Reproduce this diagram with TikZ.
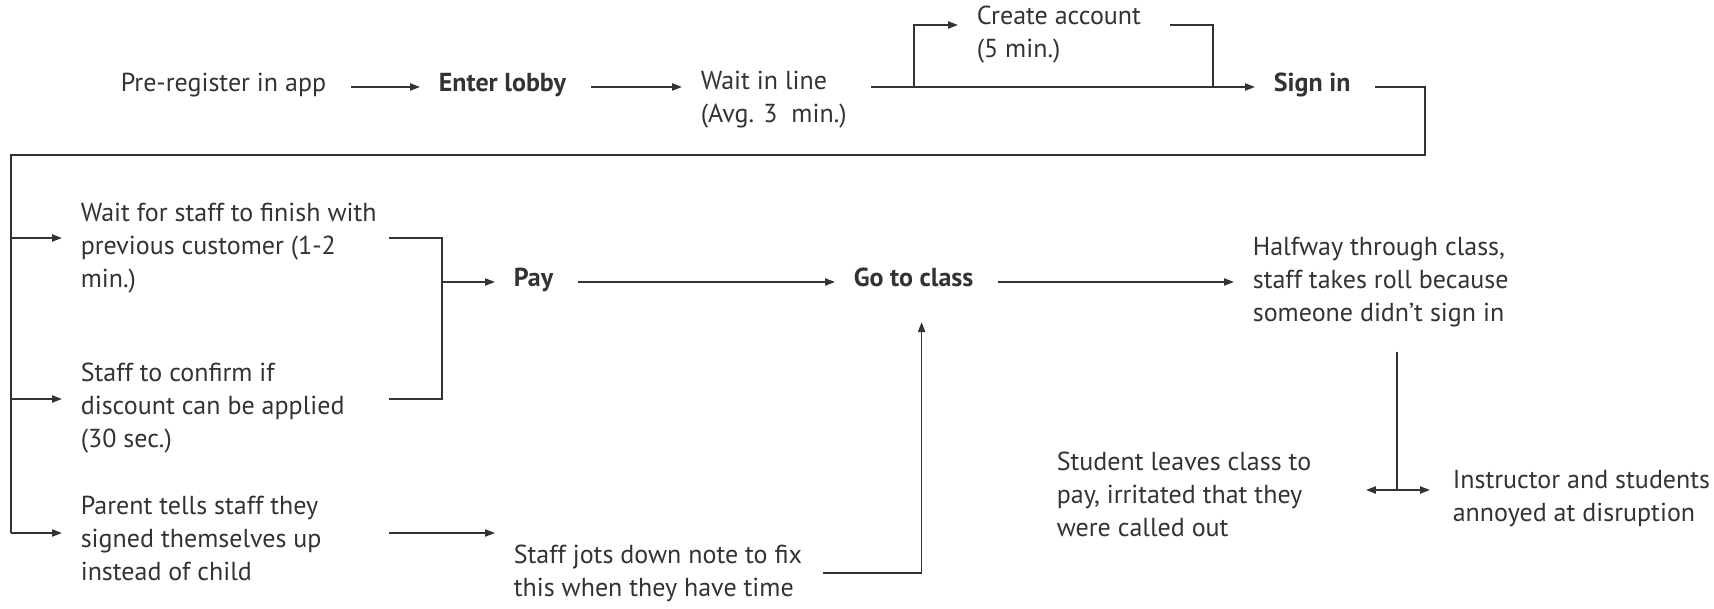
\documentclass[tikz,border=0pt]{standalone}
\usepackage{fontspec}
\setmainfont{PT Sans}
\usetikzlibrary{arrows.meta}
\definecolor{ink}{HTML}{333333}

\begin{document}
\begin{tikzpicture}[x = 0.5pt, y = -0.5pt, color = ink, line width = 0.8pt,
        txt/.style = {anchor = west, inner sep = 0pt, align = left,
            font = \fontsize{13}{16.5}\selectfont},
        key/.style = {txt, anchor = mid west, font = \fontsize{13}{16.5}\selectfont\bfseries},
        one/.style = {txt, anchor = mid west},
        feed/.style = {-{Triangle[length = 5pt, width = 3.6pt]}, shorten > = 9pt},
        flow/.style = {feed, shorten < = 12pt}]
    \useasboundingbox (0, 0) rectangle (1714, 609);

    \node [one] (pre) at (120, 87) {Pre-register in app};
    \node [key] (lobby) at (438, 87) {Enter lobby};
    \node [txt] (wait) at (700, 100) {Wait in line\\(Avg. 3\ \ min.)};
    \node [txt] (create) at (976, 35) {Create account\\(5 min.)};
    \node [key] (signin) at (1273, 87) {Sign in};

    \node [txt] (staffwait) at (80, 248) {Wait for staff to finish with\\previous customer (1-2\\min.)};
    \node [txt] (confirm) at (80, 408) {Staff to confirm if\\discount can be applied\\(30 sec.)};
    \node [txt] (parent) at (80, 538) {Parent tells staff they\\signed themselves up\\instead of child};
    \node [key] (pay) at (513, 282) {Pay};
    \node [key] (goclass) at (853, 282) {Go to class};
    \node [txt] (jots) at (513, 573) {Staff jots down note to fix\\this when they have time};
    \node [txt] (halfway) at (1252, 282) {Halfway through class,\\staff takes roll because\\someone didn’t sign in};
    \node [txt] (student) at (1056, 494) {Student leaves class to\\pay, irritated that they\\were called out};
    \node [txt] (instructor) at (1452, 499) {Instructor and students\\annoyed at disruption};

    \coordinate (split) at (914, 87);
    \coordinate (join) at (1213, 87);
    \coordinate (rtop) at (1425, 155);
    \coordinate (ltop) at (11, 155);
    \coordinate (lbot) at (11, 533);
    \coordinate (brin) at (389, 238);
    \coordinate (brout) at (442, 238);
    \coordinate (fork) at (1397, 490);
    \coordinate (sw) at ([yshift = 5pt] staffwait.west);
    \coordinate (cf) at ([yshift = 4.5pt] confirm.west);
    \coordinate (pa) at ([yshift = 2.5pt] parent.west);

    \draw [flow] (pre.mid east) -- (lobby.mid west);
    \draw [flow] (lobby.mid east) -- (lobby.mid east -| wait.west);
    \draw [flow] (wait.east |- signin.mid) -- (signin.mid west);
    \draw [feed] (split) |- ([yshift = 5pt] create.west);
    \draw ([xshift = 14pt, yshift = 5pt] create.east) -| (join);

    \draw ([xshift = 12pt] signin.mid east) -| (rtop) -- (ltop) -- (lbot);
    \draw [feed] (ltop |- sw) -- (sw);
    \draw [feed] (ltop |- cf) -- (cf);
    \draw [feed] (ltop |- pa) -- (pa);

    \draw (brin |- sw) -| (brout |- cf) -- (brin |- cf);
    \draw [feed] (brout |- pay.mid) -- (pay.mid west);
    \draw [flow] (pay.mid east) -- (goclass.mid west);
    \draw [flow] (goclass.mid east) -- (goclass.mid east -| halfway.west);

    \draw [feed] (brin |- pa) -- (pa -| jots.west);
    \draw [flow, shorten < = 10pt, shorten > = 17pt] (jots.east) -| ([xshift = 4pt] goclass.south);

    \draw [shorten < = 12pt] (halfway.south -| fork) -- (fork);
    \draw [feed, shorten > = 27pt] (fork) -- (fork -| student.east);
    \draw [feed, shorten > = 11pt] (fork) -- (fork -| instructor.west);
\end{tikzpicture}
\end{document}
